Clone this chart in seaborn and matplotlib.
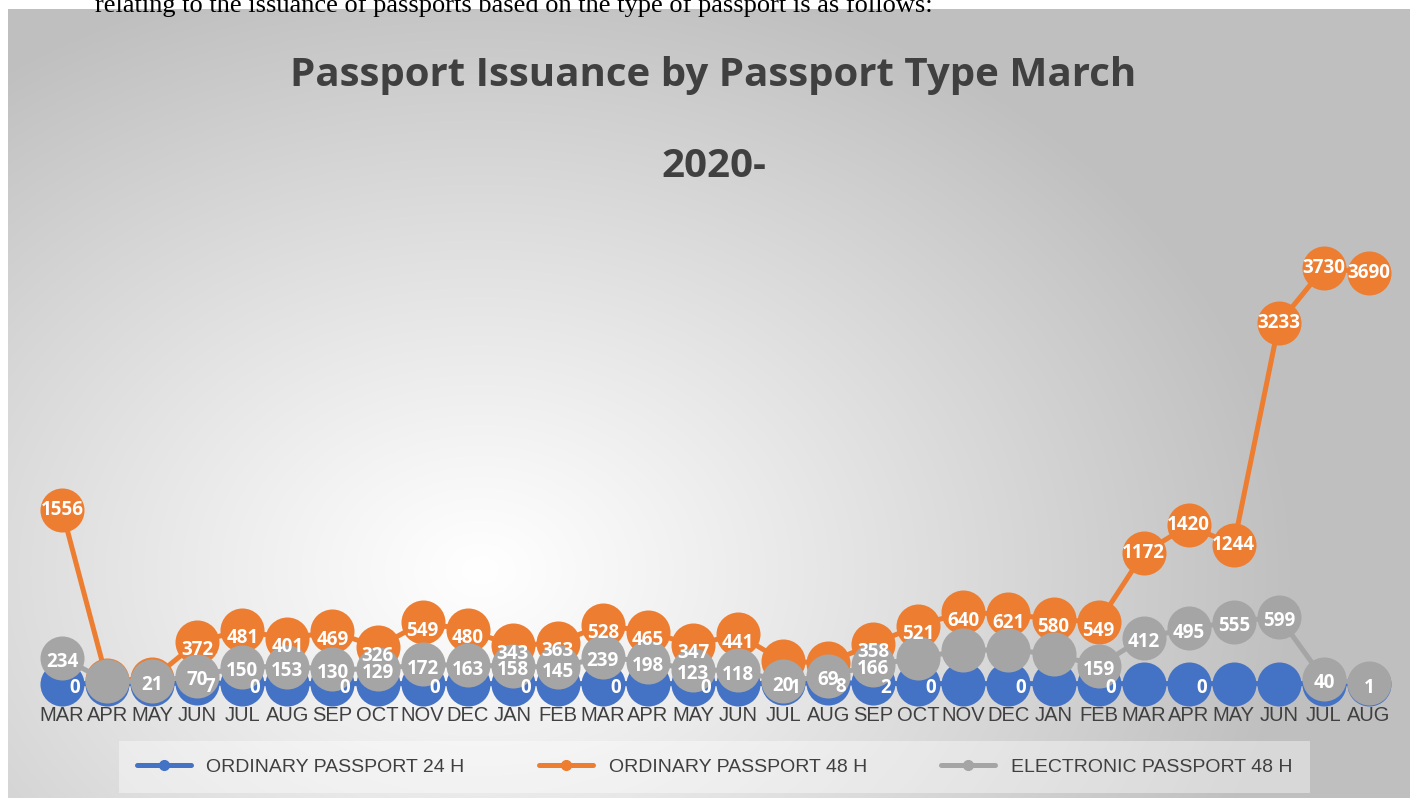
import numpy as np
import pandas as pd
import matplotlib
matplotlib.use("Agg")
import matplotlib.pyplot as plt
import seaborn as sns
from matplotlib.lines import Line2D

# ---------------- data ----------------
months = ["MAR", "APR", "MAY", "JUN", "JUL", "AUG", "SEP", "OCT", "NOV", "DEC", "JAN", "FEB",
          "MAR", "APR", "MAY", "JUN", "JUL", "AUG", "SEP", "OCT", "NOV", "DEC", "JAN", "FEB",
          "MAR", "APR", "MAY", "JUN", "JUL", "AUG"]

ordinary_24h = [0, 0, 0, 7, 0, 0, 0, 0, 0, 0, 0, 0,
                0, 0, 0, 0, 1, 8, 2, 0, 0, 0, 0, 0,
                0, 0, 0, 0, 0, 0]
ordinary_48h = [1556, 30, 40, 372, 481, 401, 469, 326, 549, 480, 343, 363,
                528, 465, 347, 441, 200, 185, 358, 521, 640, 621, 580, 549,
                1172, 1420, 1244, 3233, 3730, 3690]
electronic_48h = [234, 20, 21, 70, 150, 153, 130, 129, 172, 163, 158, 145,
                  239, 198, 123, 118, 20, 69, 166, 230, 300, 303, 265, 159,
                  412, 495, 555, 599, 40, 1]

series_names = ["ORDINARY PASSPORT 24 H", "ORDINARY PASSPORT 48 H", "ELECTRONIC PASSPORT 48 H"]
title_lines = ["Passport Issuance by Passport Type March", "2020-"]
doc_text = "relating to the issuance of passports based on the type of passport is as follows:"

# which data labels are visible in the original picture
shown_24h = [0, 3, 4, 6, 8, 10, 12, 14, 16, 17, 18, 19, 21, 23, 25]
hidden_48h = [1, 2, 16, 17]
hidden_e48h = [1, 19, 20, 21, 22]

colors = ["#4472C4", "#ED7D31", "#A5A5A5"]

# ---------------- figure ----------------
W, H = 1410, 798
sns.set_theme(style="white")
plt.rcParams["font.family"] = ["Liberation Sans", "DejaVu Sans"]
fig = plt.figure(figsize=(W / 100, H / 100), dpi=100)

# background gradient (chart area)
bg = fig.add_axes([0, 0, 1, 1], zorder=-10)
yy, xx = np.mgrid[0:H, 0:W]
r = np.sqrt(((xx - 480) / 820.0) ** 2 + ((yy - 570) / 620.0) ** 2)
g = 255 - 64 * np.clip(r, 0, 1) ** 1.1
g[:9, :] = 255
g[:, :8] = 255
img = np.dstack([g, g, g]) / 255.0
bg.imshow(img, aspect="auto", extent=[0, W, H, 0])
bg.set_xlim(0, W)
bg.set_ylim(H, 0)
bg.axis("off")

# main axes
y0_px, y1_px = 683.6, 238.0
left_px, right_px = 39.5, 1391.5
ax = fig.add_axes([left_px / W, 1 - y0_px / H, (right_px - left_px) / W, (y0_px - y1_px) / H])
ax.set_facecolor("none")

idx = np.arange(len(months))
df = pd.DataFrame({
    "period": np.tile(idx, 3),
    "value": ordinary_24h + ordinary_48h + electronic_48h,
    "series": np.repeat(series_names, len(months)),
})

ms = 31.7
for k, name in enumerate(series_names):
    sub = df[df["series"] == name]
    sns.lineplot(data=sub, x="period", y="value", ax=ax, color=colors[k], lw=3.6,
                 marker="o", markersize=ms, markeredgewidth=0, zorder=3 + k,
                 legend=False)
for ln in ax.lines:
    ln.set_clip_on(False)

lab_font = dict(family=["Open Sans", "DejaVu Sans"], fontweight="bold", fontsize=13.5, color="white")

for i, v in enumerate(ordinary_24h):
    if i in shown_24h:
        ax.annotate(str(v), (i, v), xytext=(9, -3), textcoords="offset points",
                    ha="center", va="center", zorder=10, **lab_font)
for i, v in enumerate(ordinary_48h):
    if i not in hidden_48h:
        dy = 0 if v > 1000 else -6
        ax.annotate(str(v), (i, v), xytext=(0, dy), textcoords="offset points",
                    ha="center", va="center", zorder=10, **lab_font)
for i, v in enumerate(electronic_48h):
    if i not in hidden_e48h:
        ax.annotate(str(v), (i, v), xytext=(0, -3), textcoords="offset points",
                    ha="center", va="center", zorder=10, **lab_font)

ax.set_xlim(-0.5, len(months) - 0.5)
ax.set_ylim(0, 4000)
ax.set_xticks(idx)
ax.set_xticklabels(months)
ax.tick_params(axis="x", length=0, pad=16, labelsize=14.5, labelcolor="#404040")
ax.set_yticks([])
ax.set_xlabel("")
ax.set_ylabel("")
for s in ax.spines.values():
    s.set_visible(False)

# titles
fig.text(713.5 / W, 1 - 86 / H, title_lines[0], ha="center", va="baseline",
         family=["Open Sans", "DejaVu Sans"], fontweight="bold", fontsize=29, color="#404040")
fig.text(713.5 / W, 1 - 177 / H, title_lines[1], ha="center", va="baseline",
         family=["Open Sans", "DejaVu Sans"], fontweight="bold", fontsize=29, color="#404040")

# cropped document text at top
fig.text(95 / W, 1 - 12 / H, doc_text, ha="left", va="baseline",
         family=["Liberation Serif", "DejaVu Serif"], fontsize=19, color="black")

# legend
handles = [Line2D([0], [0], color=c, lw=3.6, marker="o", markersize=7) for c in colors]
leg = fig.legend(handles, series_names, loc="center",
                 bbox_to_anchor=(119 / W, 1 - 790 / H, 1191 / W, 46 / H),
                 mode="expand", ncol=3, frameon=True, facecolor="white", framealpha=0.4,
                 edgecolor="none", fancybox=False, handlelength=2.8, borderaxespad=0,
                 borderpad=0.9, prop={"size": 14}, labelcolor="#404040")
leg.get_frame().set_linewidth(0)

fig.savefig("out.png", dpi=100)
